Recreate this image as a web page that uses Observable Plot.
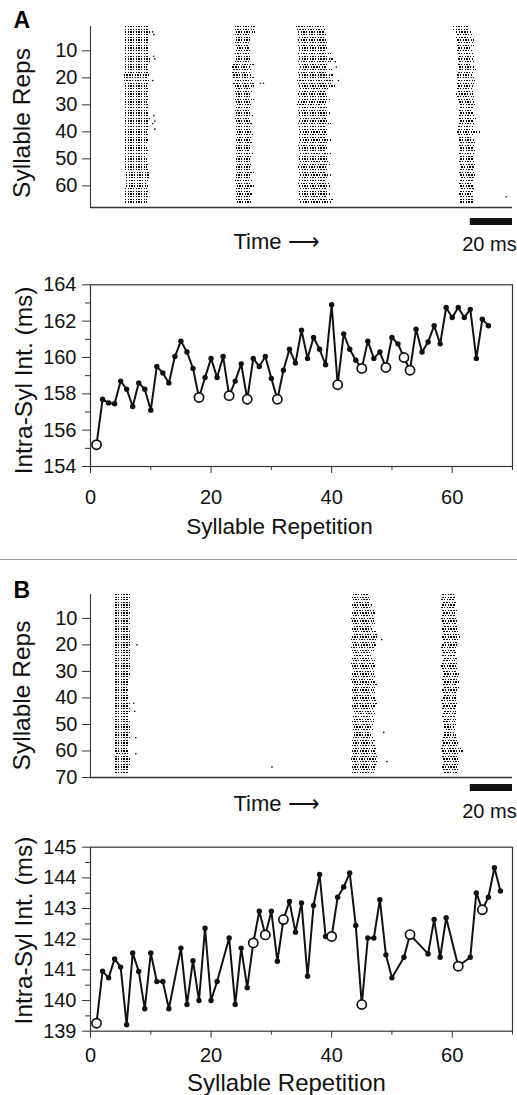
<!DOCTYPE html>
<html><head><meta charset="utf-8">
<script src="https://cdn.jsdelivr.net/npm/d3@7"></script>
<script src="https://cdn.jsdelivr.net/npm/@observablehq/plot@0.6"></script>
<style>
html,body{margin:0;padding:0;background:#fff;}
#fig{position:relative;width:517px;height:1095px;overflow:hidden;background:#fff;}
#fig svg{position:absolute;left:0;}
.sep{position:absolute;left:0;top:559px;width:517px;height:1px;background:#9a9a9a;}
</style></head><body><div id="fig"><div class="sep"></div></div>
<script>
// ---------------- Panel A raster (per-row burst onset / offset, ms) ----------------
const rasterTicksA = [10, 20, 30, 40, 50, 60];
const a1On = [16.5,16.5,16.5,16.5,16.5,16.5,16.5,16.5,16.5,16.5, 16.5,16.5,16.5,16.5,16.5,16.5,16.5,16.5,16,16, 16,16.5,16.5,16.5,16.5,16.5,16.5,16.5,16.5,16.5, 16.5,16.5,16.5,16.5,16.5,16.5,16.5,16.5,16.5,16.5, 16.5,16.5,16.5,16.5,16.5,16.5,16.5,16.5,16.5,16.5, 16.5,16.5,16.5,16.5,17,17,17,17,17,17, 16.5,16.5,16.5,16.5,16.5,16.5];
const a1Off = [28,27.5,28.5,28,28,27.5,28,27,28,27.5, 28,28,28.5,28.5,27.5,27,28,27.5,28,27, 28,27.5,27,28,27.5,27,27.5,28,27,27.5, 28,27,27.5,28,28.5,28,28,28,27.5,27, 27.5,27,27.5,27,26.5,27,27.5,27,26.5,27, 27,27.5,27,27.5,28,28.5,28,27.5,27,27.5, 27,27.5,27,27.5,27,27];
const a2On = [68.5,68.5,69,68.5,69,69,68.5,69,69.5,69, 68.5,69,69,68.5,68,67.5,68,67.5,68,68, 68.5,68,68.5,69,68.5,69,69,68.5,69,69.5, 69,68.5,69,69,68.5,69,69.5,69,69,69.5, 69,69.5,69,69.5,69,69,69.5,69,69.5,69, 69,69.5,69,69,69.5,69,69,68.5,69,69.5, 69,69,69.5,69,69,69.5];
const a2Off = [78,77.5,78,76.5,77,76,76.5,75.5,76,77, 76.5,77,76,76.5,77.5,76,77,76.5,77,78, 77,77.5,77.5,76.5,77,76,76.5,77.5,76,76.5, 77,76.5,77,77.5,76,76.5,77,76,77,76.5, 77.5,76.5,76,77,76.5,77,76,77.5,76.5,76, 77,76.5,77,76,77.5,76.5,76,77,76.5,77.5, 76,76.5,77,76.5,76,76.5];
const a3On = [97.5,98,98.5,98.5,99,98.5,99,98.5,99,99, 98.5,99,99,98.5,99,99.5,99,98.5,99,99, 98,98.5,99,99.5,99,98.5,99,99,98.5,98, 99,98.5,99,99,99.5,99,98.5,99,99,99.5, 99,99,99.5,99,98.5,99,99,99.5,99,99, 99.5,99,98.5,99,99,99.5,99,99,98.5,99, 99.5,99,99,99.5,99,99.5];
const a3Off = [111,112,111.5,112.5,111,112,113,112,113.5,112, 114,113,115,114,113.5,112,114.5,113,115.5,114, 116,114,117,113.5,112,113,112.5,114,113,112, 113.5,112,114,113,112.5,113,114,112,113.5,112.5, 113,112,114,113,112.5,113,112,114,113,112.5, 113,114,112.5,113,112,114.5,113,112,113.5,114, 112.5,113,114,112.5,115,114];
const a4On = [172,172,173.5,174,173.5,174,174.5,174,174.5,174, 174.5,175,174.5,175,174.5,175,175,174.5,174,174, 174.5,174,174.5,174,174.5,173.5,174,174.5,175,175.5, 175.5,175,175.5,175,175,175.5,175,174.5,174.5,174, 174.5,175,175,175.5,175,175.5,175.5,175,175.5,175.5, 175,175.5,176,175.5,175,175.5,176,175.5,175,175.5, 176,175.5,175,175.5,175.5,175.5];
const a4Off = [179.5,179,181,181.5,181,182,181.5,182,181,181.5, 182,182.5,181.5,182,181,182.5,183,182,181.5,182, 182.5,182,181.5,181,182,181.5,182,181.5,182,182.5, 182,181.5,182,182.5,183,182,182.5,182,181.5,185.5, 182,181.5,182,182.5,182,181.5,182.5,182,181.5,182, 182.5,183,182.5,182,182.5,183,182.5,182,181.5,182, 182.5,182,181.5,182,182,181.5];
// isolated spikes: [row, ms]
const straysA = [[3,29.5],[4,30],[12,30],[13,30.5],[21,29.5],[34,30],[36,30.5],[37,29.5],[39,30.5],[22,80.5],[22,82],[14,116],[16,116.5],[21,117.5],[64,197]];

// ---------------- Panel B raster ----------------
const rasterTicksB = [10, 20, 30, 40, 50, 60, 70];
const b1On = [12,12,12,12,12,12,12,12,12,12, 12,12,12,12,12,12,12,12,12,12, 12,12,12,12,12,12,12,12,12,12, 12,12,12,12,12,12,12,12,12,12, 12,12,12,12,12,12,12,12,12,12, 12,12,12,12,12,12,12,12,12,12, 12.5,12,12,12,12,12,12,12];
const b1Off = [19,19.5,18.5,19,20,19,18.5,19,18,19, 18.5,19,18,18.5,19.5,19,20,19.5,19,19.5, 18.5,19.5,19,20,19,18.5,19,19.5,19,18.5, 19,18.5,18,18.5,18,17.5,18,17.5,18,18, 17.5,19,18.5,19,19.5,18.5,18,18.5,19,18.5, 19,19.5,19,18.5,20,18.5,18,18,17.5,18, 18,18.5,19.5,19,19.5,18.5,18.5,18.5];
const b2On = [124.5,124,124.5,125,124,124.5,125,124,124.5,123.5, 124,124.5,125,124,124.5,125,124,123.5,124,124.5, 123.5,124,124.5,125,124,124.5,123.5,124,124.5,125, 124,124.5,123.5,124,125,124.5,124,124.5,125,124, 124.5,125,124,124.5,125,125.5,124.5,125,124,124.5, 125,124.5,125,125,124.5,124,124.5,124,124.5,124, 124.5,124,123.5,124,124.5,124,124.5,124];
const b2Off = [132,132.5,133,132.5,134,133.5,134.5,135,134,135, 134.5,135,134,133.5,135.5,136,136.5,135.5,135,136, 135,134.5,133,133.5,134,135,134.5,135.5,134,135, 134.5,135,134,135.5,136,135,134.5,135,134,135, 135.5,136,135,134.5,135,135.5,134,135,134.5,134, 133.5,134,132.5,133,134,135,134.5,135,136,135.5, 136,137,136.5,137,136,135.5,135,134.5];
const b3On = [167,167,166.5,167.5,167,166.5,167,167.5,167,166.5, 167,167.5,168,167,167.5,168,167,167.5,168,167, 166.5,167,167.5,167,168,167.5,167,166.5,167,167.5, 168,167.5,167,168,167.5,168,167,167.5,168,167.5, 166.5,167,167.5,167,168,167.5,167,168,167.5,168, 168,168.5,168,168,167.5,167,167.5,167,166.5,167, 167.5,167,167.5,168,167.5,167,167.5,168];
const b3Off = [172.5,173,172.5,173.5,173,172.5,174,173,173.5,174, 174.5,173.5,174,175,174.5,175,176,175,174.5,174, 173.5,173,174,173.5,174,173,174,174.5,175,174, 175.5,175,174.5,175,174,175,174.5,174,173.5,174, 174.5,174,173.5,173,173.5,174,173,173.5,173,173.5, 173,173.5,173,173.5,174,175,174.5,175,176,177, 175.5,174.5,175,175.5,174.5,175,174.5,174];
const straysB = [[20,22],[42,20.5],[45,21],[55,21.5],[61,21.5],[66,86],[18,138],[53,139],[64,140.5]];

const scaleBarMs = [180, 200];   // 20 ms scale bar

// ---------------- Panel A intervals ----------------
const repsA = [1,2,3,4,5,6,7,8,9,10,11,12,13,14,15,16,17,18,19,20,21,22,23,24,25,26,27,28,29,30,31,32,33,34,35,36,37,38,39,40,41,42,43,44,45,46,47,48,49,50,51,52,53,54,55,56,57,58,59,60,61,62,63,64,65,66];
const intervalsA = [155.2,157.7,157.5,157.45,158.7,158.25,157.3,158.6,158.25,157.1,
  159.5,159.15,158.6,160.05,160.9,160.3,159.4,157.8,158.9,159.95,
  158.9,160.05,157.9,158.7,159.65,157.7,159.95,159.5,160.05,158.85,
  157.7,159.3,160.45,159.7,161.5,159.95,161.1,160.45,159.6,162.9,
  158.5,161.3,160.45,159.85,159.4,160.9,159.95,160.3,159.45,161.1,
  160.75,160.0,159.3,161.55,160.3,160.85,161.75,160.75,162.75,162.2,
  162.75,162.2,162.65,159.95,162.1,161.75];
const openA = [1,18,23,26,31,41,45,49,52,53];
const yMajorA = [154,156,158,160,162,164];
const yMinorA = [155,157,159,161,163];

// ---------------- Panel B intervals ----------------
const repsB = [1,2,3,4,5,6,7,8,9,10,11,12,13,15,16,17,18,19,20,21,23,24,25,26,27,28,29,30,31,32,33,34,35,36,37,38,39,40,41,42,43,44,45,46,47,48,49,50,52,53,56,57,58,59,61,63,64,65,66,67,68];
const intervalsB = [139.26,140.96,140.74,141.36,141.09,139.21,141.55,140.95,139.73,141.55,
  140.62,140.62,139.73,141.71,139.87,141.30,140.0,142.36,140.0,140.62,
  142.04,139.87,141.71,140.42,141.88,142.91,142.14,142.91,141.28,142.64,
  143.23,142.23,143.18,140.79,143.10,144.11,142.09,142.09,143.37,143.70,
  144.16,142.45,139.87,142.04,142.04,143.29,141.49,140.74,141.41,142.15,
  141.52,142.64,141.41,142.70,141.12,141.41,143.51,142.96,143.37,144.33,143.57];
const openB = [1,27,29,32,40,45,53,61,65];
const yMajorB = [139,140,141,142,143,144,145];
const yMinorB = [139.5,140.5,141.5,142.5,143.5,144.5];

const xMajor = [0,20,40,60];
const xMinor = [10,30,50,70];

// ---------------- drawing ----------------
const FONT = "'Liberation Sans', Arial, Helvetica, sans-serif";
const INK = "#111";
const AXIS = "#333";
const fig = document.getElementById("fig");
const style = () => ({fontFamily: FONT, fontSize: "20px", color: INK, background: "transparent", overflow: "visible"});

function place(svg, top) { svg.style.top = top + "px"; fig.appendChild(svg); }

function raster(c) {
  const rows = [];
  c.bursts.forEach(([on, off]) => on.forEach((v, i) => rows.push({row: i + 1, on: v, off: off[i]})));
  const ymax = c.yDomain[1];
  return Plot.plot({
    width: 517, height: c.height, marginLeft: 90, marginRight: 5, marginTop: c.mTop, marginBottom: c.mBottom,
    style: style(),
    x: {domain: [0, 200], axis: null},
    y: {domain: c.yDomain, reverse: true},
    marks: [
      Plot.ruleY(rows, {y: "row", x1: "on", x2: "off", stroke: "#000", strokeWidth: 1.3, strokeDasharray: "1.4,1.3", shapeRendering: "crispEdges"}),
      Plot.dot(c.strays, {x: d => d[1], y: d => d[0], r: 0.8, fill: "#000", stroke: "none"}),
      Plot.ruleX([0], {stroke: AXIS, strokeWidth: 1.1}),
      Plot.ruleY([ymax], {stroke: AXIS, strokeWidth: 1.3}),
      Plot.axisY(c.ticks, {tickSize: 8, tickPadding: 5, label: null, stroke: AXIS, fontSize: 20}),
      Plot.ruleY([scaleBarMs], {x1: d => d[0], x2: d => d[1], y: () => ymax, dy: c.barDy, stroke: INK, strokeWidth: 7}),
      Plot.text(["Syllable Reps"], {frameAnchor: "left", textAnchor: "middle", lineAnchor: "bottom", rotate: -90, dx: -61, dy: c.labDy, fontSize: 24.5, fill: INK}),
      Plot.text(["Time \u27F6"], {frameAnchor: "bottom-left", textAnchor: "start", lineAnchor: "bottom", dx: 143, dy: c.timeDy, fontSize: 22, fill: INK}),
      Plot.text(["20 ms"], {frameAnchor: "bottom-right", textAnchor: "start", lineAnchor: "bottom", dx: -50.3, dy: c.msDy, fontSize: 20, fill: INK}),
      Plot.text([c.letter], {frameAnchor: "top-left", textAnchor: "start", lineAnchor: "bottom", dx: -77, dy: c.letterDy, fontSize: 23, fontWeight: "bold", fill: "#000"})
    ]
  });
}

function linePanel(c) {
  const pts = c.reps.map((r, i) => ({rep: r, v: c.vals[i], open: c.open.includes(r)}));
  return Plot.plot({
    width: 517, height: c.height, marginLeft: 90, marginRight: 5, marginTop: c.mTop, marginBottom: c.mBottom,
    style: style(),
    x: {domain: [0, 70]},
    y: {domain: c.yDomain},
    marks: [
      Plot.frame({stroke: AXIS, strokeWidth: 1.2}),
      Plot.axisY(c.yMajor, {tickSize: 8, tickPadding: 6, label: null, stroke: AXIS, fontSize: 20}),
      Plot.axisY(c.yMinor, {tickSize: 5, tickFormat: () => "", label: null, stroke: AXIS}),
      Plot.axisX(xMajor, {tickSize: 7, tickPadding: c.xPad, label: null, stroke: AXIS, fontSize: 20}),
      Plot.axisX(xMinor, {tickSize: 4, tickFormat: () => "", label: null, stroke: AXIS}),
      Plot.line(pts, {x: "rep", y: "v", stroke: INK, strokeWidth: 2}),
      Plot.dot(pts.filter(d => !d.open), {x: "rep", y: "v", r: 2.7, fill: INK, stroke: "none"}),
      Plot.dot(pts.filter(d => d.open), {x: "rep", y: "v", r: 4.6, fill: "white", stroke: INK, strokeWidth: 1.7}),
      Plot.text(["Intra-Syl Int. (ms)"], {frameAnchor: "left", textAnchor: "middle", lineAnchor: "bottom", rotate: -90, dx: -59, dy: c.labDy, fontSize: 24.5, fill: INK}),
      Plot.text(["Syllable Repetition"], {frameAnchor: "bottom-left", textAnchor: "middle", lineAnchor: "bottom", dx: c.xlabDx, dy: c.xlabDy, fontSize: c.xlabSize, fill: INK})
    ]
  });
}

place(raster({height: 255, mTop: 26, mBottom: 48, yDomain: [1, 68], ticks: rasterTicksA,
  bursts: [[a1On, a1Off], [a2On, a2Off], [a3On, a3Off], [a4On, a4Off]], strays: straysA,
  barDy: 14, labDy: 6, timeDy: 41, msDy: 43, letter: "A", letterDy: 1.3}), 0);

place(linePanel({height: 300, mTop: 29.3, mBottom: 89, reps: repsA, vals: intervalsA, open: openA,
  yDomain: [154, 164], yMajor: yMajorA, yMinor: yMinorA, xPad: 16, labDy: 4.8,
  xlabDx: 189, xlabDy: 67, xlabSize: 22.5}), 255);

place(raster({height: 260, mTop: 34, mBottom: 43, yDomain: [1, 70], ticks: rasterTicksB,
  bursts: [[b1On, b1Off], [b2On, b2Off], [b3On, b3Off]], strays: straysB,
  barDy: 10, labDy: 9.5, timeDy: 33, msDy: 40, letter: "B", letterDy: 3}), 560);

place(linePanel({height: 275, mTop: 26.7, mBottom: 64.3, reps: repsB, vals: intervalsB, open: openB,
  yDomain: [139, 145], yMajor: yMajorB, yMinor: yMinorB, xPad: 10, labDy: -8.7,
  xlabDx: 196, xlabDy: 59.3, xlabSize: 24}), 820);
</script></body></html>
